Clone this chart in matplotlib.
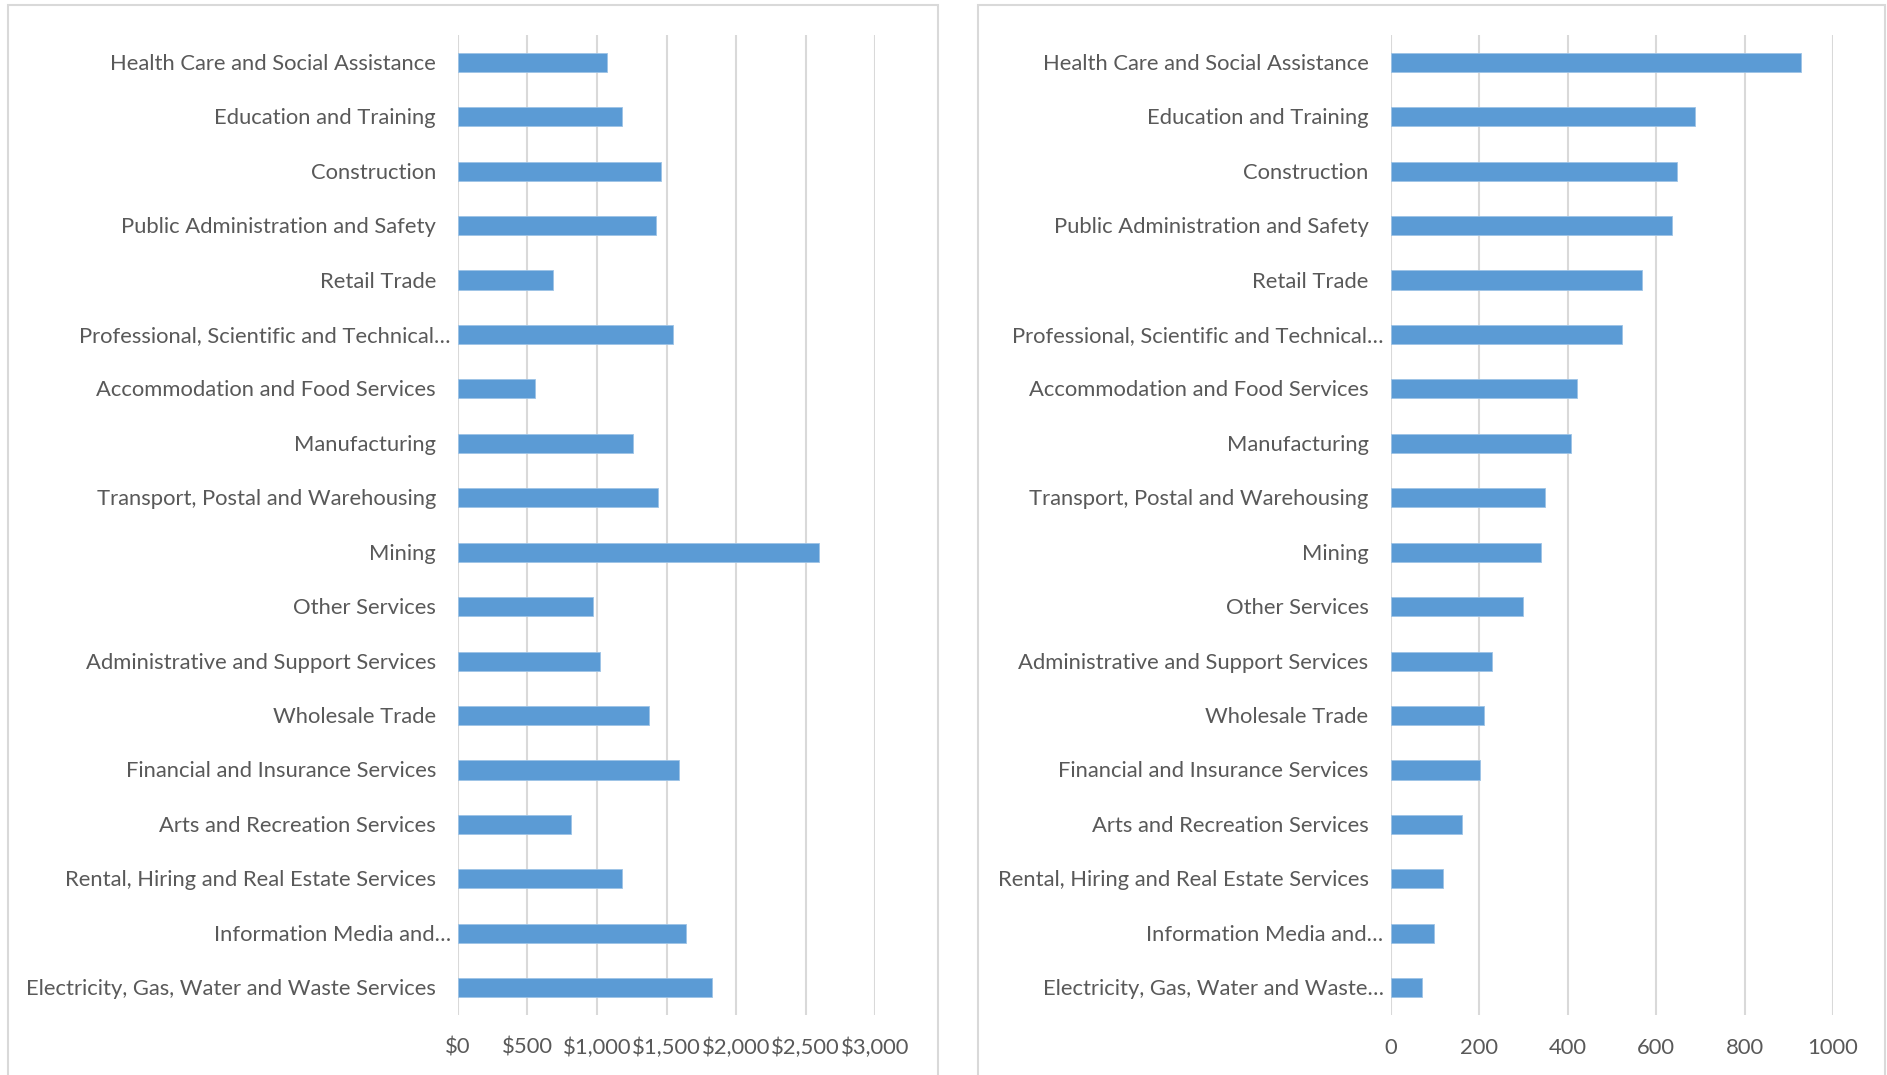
import matplotlib
matplotlib.use("Agg")
import matplotlib.pyplot as plt
from matplotlib.patches import Rectangle
from matplotlib.ticker import FuncFormatter
import matplotlib.transforms as mtransforms

plt.rcParams['font.family'] = ['Lato', 'DejaVu Sans']

industries_left = [
    "Health Care and Social Assistance",
    "Education and Training",
    "Construction",
    "Public Administration and Safety",
    "Retail Trade",
    "Professional, Scientific and Technical…",
    "Accommodation and Food Services",
    "Manufacturing",
    "Transport, Postal and Warehousing",
    "Mining",
    "Other Services",
    "Administrative and Support Services",
    "Wholesale Trade",
    "Financial and Insurance Services",
    "Arts and Recreation Services",
    "Rental, Hiring and Real Estate Services",
    "Information Media and…",
    "Electricity, Gas, Water and Waste Services",
]
industries_right = [
    "Health Care and Social Assistance",
    "Education and Training",
    "Construction",
    "Public Administration and Safety",
    "Retail Trade",
    "Professional, Scientific and Technical…",
    "Accommodation and Food Services",
    "Manufacturing",
    "Transport, Postal and Warehousing",
    "Mining",
    "Other Services",
    "Administrative and Support Services",
    "Wholesale Trade",
    "Financial and Insurance Services",
    "Arts and Recreation Services",
    "Rental, Hiring and Real Estate Services",
    "Information Media and…",
    "Electricity, Gas, Water and Waste…",
]
weekly_earnings = [1069, 1183, 1463, 1426, 683, 1547, 557, 1255, 1436, 2597,
                   968, 1022, 1374, 1587, 812, 1181, 1639, 1827]
employed_thousands = [927, 689, 647, 636, 568, 522, 422, 407, 350, 340,
                      300, 230, 210, 201, 162, 119, 98, 71]
left_ticks = [0, 500, 1000, 1500, 2000, 2500, 3000]
right_ticks = [0, 200, 400, 600, 800, 1000]

BAR = "#5B9BD5"
GRID = "#D9D9D9"
TEXT = "#595959"
FS = 15.8

W, H = 1887, 1075
fig = plt.figure(figsize=(W / 100, H / 100), dpi=100)

# panel borders
for (x0, x1) in [(8, 938), (978, 1885)]:
    fig.patches.append(Rectangle((x0 / W, -0.05), (x1 - x0) / W, 1.05 - 5 / H,
                                 transform=fig.transFigure, fill=False,
                                 edgecolor=GRID, linewidth=1.5))

ax_bottom = 1 - 1015 / H
ax_height = (1015 - 35) / H
axL = fig.add_axes([457.9 / W, ax_bottom, (875.3 - 457.9) / W, ax_height])
axR = fig.add_axes([1390.6 / W, ax_bottom, (1833.0 - 1390.6) / W, ax_height])


def style(ax, labels, values, ticks, fmt):
    y = list(range(len(values)))
    ax.set_axisbelow(True)
    ax.barh(y, values, height=0.35, color=BAR, edgecolor="#9DC3E6", linewidth=0.6)
    ax.set_ylim(len(values) - 0.5, -0.5)
    ax.set_xlim(ticks[0], ticks[-1])
    ax.set_xticks(ticks)
    ax.xaxis.set_major_formatter(FuncFormatter(fmt))
    ax.grid(axis='x', color=GRID, linewidth=1.5)
    ax.grid(axis='y', visible=False)
    for s in ax.spines.values():
        s.set_visible(False)
    ax.tick_params(axis='x', length=0, pad=16.5, labelsize=FS, labelcolor=TEXT)
    ax.set_yticks([])
    trans = mtransforms.blended_transform_factory(ax.transAxes, ax.transData)
    for i, lab in enumerate(labels):
        off = 7 if lab.endswith("…") else 22
        t = mtransforms.offset_copy(trans, fig=fig, x=-off, y=-1.5, units='dots')
        ax.text(0, i, lab, transform=t, ha='right', va='center',
                fontsize=FS, color=TEXT)


style(axL, industries_left, weekly_earnings, left_ticks,
      lambda v, p: "${:,.0f}".format(v))
style(axR, industries_right, employed_thousands, right_ticks,
      lambda v, p: "{:.0f}".format(v))

fig.savefig("out.png", dpi=100, facecolor="white")
